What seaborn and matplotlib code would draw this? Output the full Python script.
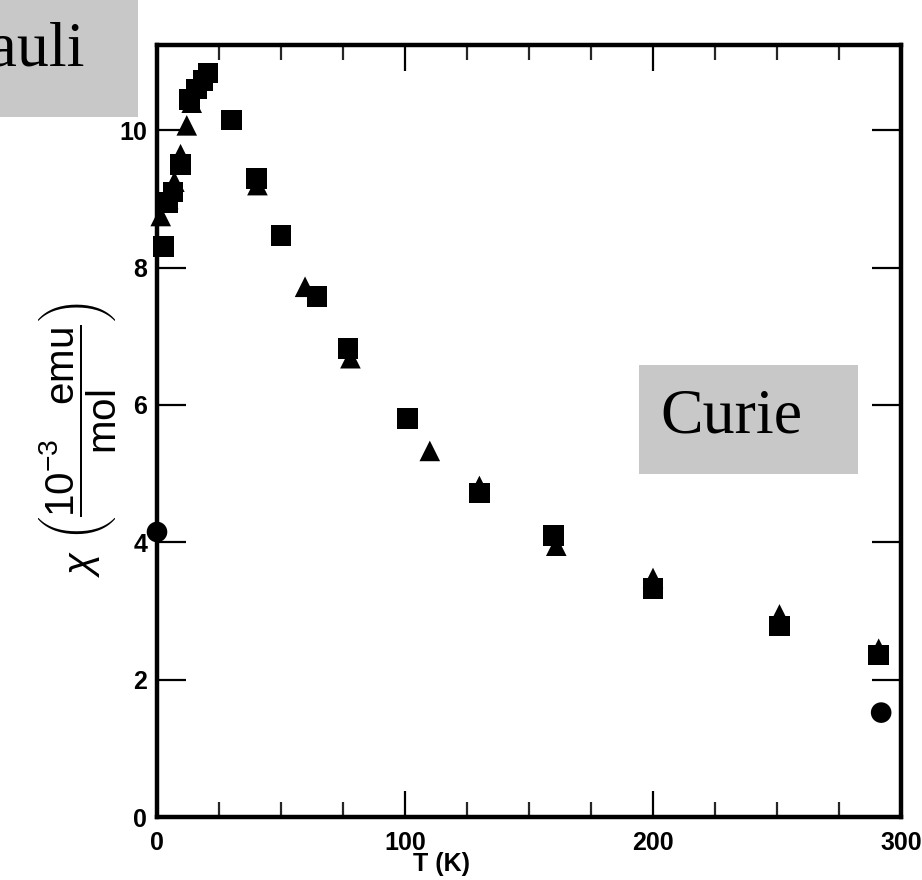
import numpy as np
import pandas as pd
import matplotlib
matplotlib.use("Agg")
import matplotlib.pyplot as plt
from matplotlib.patches import Rectangle
from matplotlib.ticker import FixedLocator
import seaborn as sns

# ---- data ----
T_square = [2.5, 4.5, 6.5, 9.5, 13, 16, 18.5, 20.5, 30, 40, 50, 64.5, 77, 101, 130, 160, 200, 251, 291]
chi_square = [8.31, 8.95, 9.1, 9.5, 10.45, 10.6, 10.72, 10.83, 10.15, 9.3, 8.47, 7.58, 6.82, 5.8, 4.72, 4.1, 3.33, 2.78, 2.36]

T_triangle = [1.5, 4.5, 7, 9.5, 12, 14, 40.5, 59.7, 78, 110, 130, 161, 200, 251, 291]
chi_triangle = [8.75, 9.0, 9.25, 9.65, 10.07, 10.4, 9.2, 7.72, 6.68, 5.33, 4.82, 3.95, 3.48, 2.95, 2.45]

T_circle = [0, 292]
chi_circle = [4.15, 1.52]

x_major = [0, 100, 200, 300]
x_minor = [25, 50, 75, 125, 150, 175, 225, 250, 275]
y_major = [0, 2, 4, 6, 8, 10]

df = pd.DataFrame({
    "T": T_square + T_triangle + T_circle,
    "chi": chi_square + chi_triangle + chi_circle,
    "kind": ["square"] * len(T_square) + ["triangle"] * len(T_triangle) + ["circle"] * len(T_circle),
})

sns.set_style("white")
plt.rcParams["font.family"] = ["Liberation Sans", "DejaVu Sans"]
plt.rcParams["mathtext.fontset"] = "custom"
plt.rcParams["mathtext.rm"] = "Liberation Sans"
plt.rcParams["mathtext.it"] = "Liberation Sans:italic"
plt.rcParams["mathtext.bf"] = "Liberation Sans:bold"

W, H = 922, 880
fig = plt.figure(figsize=(W / 100, H / 100), dpi=100)
fig.patch.set_facecolor("white")

x0, x1, y_top, y_bot = 157, 901, 45, 817
ax = fig.add_axes([x0 / W, (H - y_bot) / H, (x1 - x0) / W, (y_bot - y_top) / H])

sns.scatterplot(data=df, x="T", y="chi", style="kind",
                markers={"square": "s", "triangle": "^", "circle": "o"},
                color="black", s=220, linewidth=0, legend=False, ax=ax,
                clip_on=False, zorder=3)

ax.set_xlim(0, 300)
ax.set_ylim(0, 11.24)

ax.xaxis.set_major_locator(FixedLocator(x_major))
ax.xaxis.set_minor_locator(FixedLocator(x_minor))
ax.yaxis.set_major_locator(FixedLocator(y_major))
ax.set_xticklabels([str(v) for v in x_major])
ax.set_yticklabels([str(v) for v in y_major])

for s in ax.spines.values():
    s.set_visible(True)
    s.set_color("black")
    s.set_linewidth(3.2)

ax.tick_params(axis="x", which="major", direction="in", length=19, width=1.6,
               top=True, bottom=True, pad=10, labelsize=18, colors="black")
ax.tick_params(axis="x", which="minor", direction="in", length=11, width=1.6,
               top=True, bottom=True)
ax.tick_params(axis="y", which="major", direction="in", length=21, width=1.6,
               left=True, right=True, pad=7, labelsize=18, colors="black")
for lab in ax.get_xticklabels() + ax.get_yticklabels():
    lab.set_fontweight("bold")

ax.set_xlabel("T (K)", fontsize=18, fontweight="bold", color="black")
ax.xaxis.set_label_coords((441 - x0) / (x1 - x0), -(852 - y_bot) / (y_bot - y_top))

ax.set_ylabel(r"$\chi\ \left(\dfrac{10^{-3}\quad\mathrm{emu}}{\mathrm{mol}}\right)$",
              fontsize=29, color="black", ha="center", va="center")
ax.yaxis.set_label_coords((78 - x0) / (x1 - x0), (y_bot - 440) / (y_bot - y_top))

# ---- overlay boxes ----
def box(px0, py0, px1, py1):
    r = Rectangle((px0 / W, 1 - py1 / H), (px1 - px0) / W, (py1 - py0) / H,
                  transform=fig.transFigure, facecolor="#c8c8c8", edgecolor="none", zorder=10)
    fig.add_artist(r)

box(-10, -10, 138, 117)
fig.text(85 / W, 1 - 65 / H, "Pauli", ha="right", va="baseline", fontsize=46,
         family="Liberation Serif", color="black", zorder=11)

box(639, 365, 858, 474)
fig.text(660 / W, 1 - 432 / H, "Curie", ha="left", va="baseline", fontsize=46,
         family="Liberation Serif", color="black", zorder=11)

fig.savefig("out.png", dpi=100)
